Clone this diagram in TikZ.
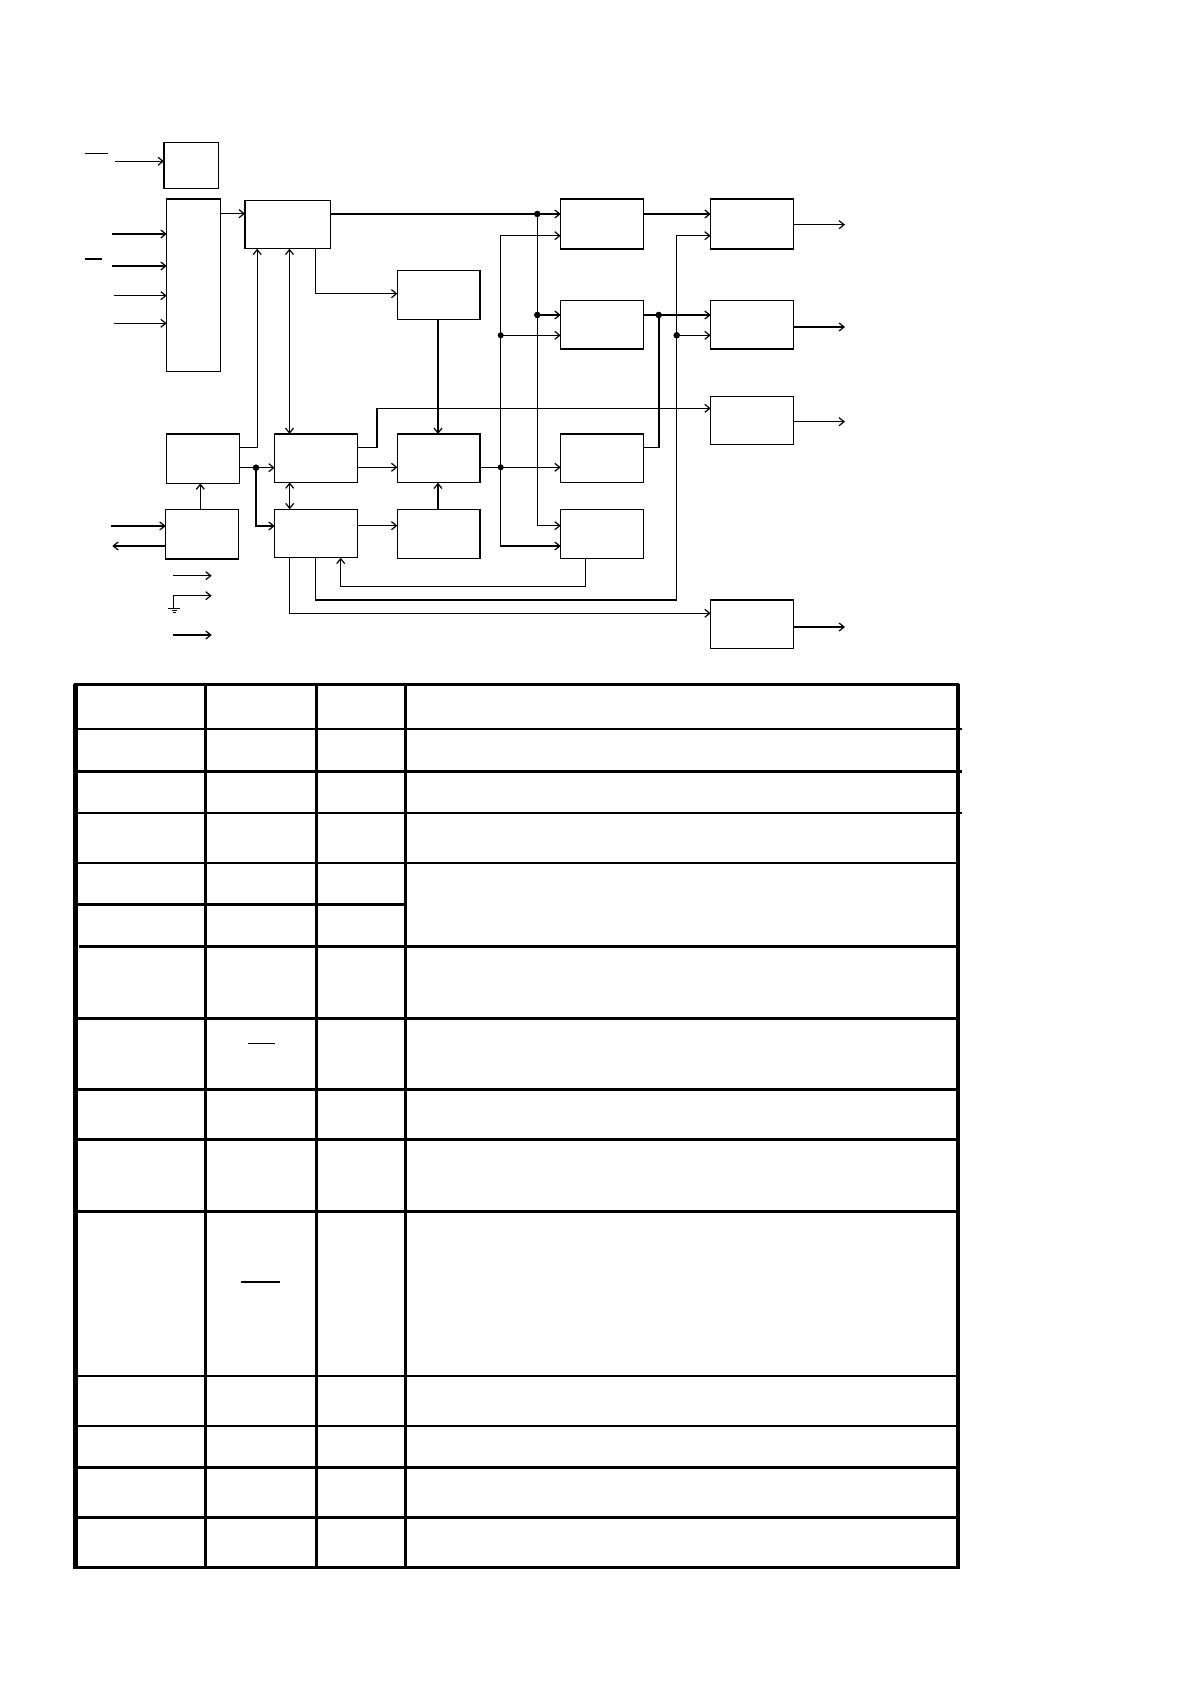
\documentclass[tikz,border=0pt]{standalone}
\usetikzlibrary{arrows.meta,calc}
\begin{document}
\begin{tikzpicture}[x=0.5pt,y=-0.5pt,
  box/.style={draw,line width=0.6pt,inner sep=0pt,outer sep=0pt},
  wire/.style={line width=0.6pt},
  arr/.style={wire,-{Straight Barb[length=2.5pt,width=4pt]}},
  dbl/.style={wire,{Straight Barb[length=2.5pt,width=4pt]}-{Straight Barb[length=2.5pt,width=4pt]}},
  dot/.style={circle,fill,inner sep=0pt,minimum size=3.3pt},
  bar/.style={line width=0.6pt},
  tthick/.style={line width=1.4pt,line cap=rect},
  tthin/.style={line width=1pt,line cap=rect}]
\useasboundingbox (0,0) rectangle (1190,1684);
% ---------- blocks ----------
\node[box,minimum width=27.2pt,minimum height=23pt]  (S) at (191.2,165.3) {};
\node[box,minimum width=27pt,minimum height=86.3pt]  (T) at (193.7,285.3) {};
\node[box,minimum width=42.7pt,minimum height=24.2pt] (A) at (287.7,224.5) {};
\node[box,minimum width=41.3pt,minimum height=24.5pt] (B) at (438.7,294.8) {};
\node[box,minimum width=36.3pt,minimum height=24.7pt] (C) at (203,458.7) {};
\node[box,minimum width=36.3pt,minimum height=24.8pt] (D) at (202,534.2) {};
\node[box,minimum width=41.3pt,minimum height=24.2pt] (E) at (316,458.2) {};
\node[box,minimum width=41.3pt,minimum height=24.2pt] (F) at (316,533.5) {};
\node[box,minimum width=41.3pt,minimum height=24.3pt] (G) at (438.7,458.3) {};
\node[box,minimum width=41.3pt,minimum height=24.3pt] (H) at (438.7,534) {};
\node[box,minimum width=41.3pt,minimum height=25pt]   (I1) at (602,224) {};
\node[box,minimum width=41.3pt,minimum height=24.3pt] (I2) at (602,324.7) {};
\node[box,minimum width=41.3pt,minimum height=24.3pt] (I3) at (602,458.3) {};
\node[box,minimum width=41.3pt,minimum height=24.3pt] (I4) at (602,534) {};
\node[box,minimum width=41.3pt,minimum height=25pt]   (J1) at (752,224) {};
\node[box,minimum width=41.3pt,minimum height=24.3pt] (J2) at (752,324.7) {};
\node[box,minimum width=41.3pt,minimum height=24.2pt] (J3) at (752,420.5) {};
\node[box,minimum width=41.3pt,minimum height=24.2pt] (J4) at (752,624.2) {};
% ---------- free ends ----------
\coordinate (inS) at (115,161.3);
\coordinate (inT1) at (112.3,234);
\coordinate (inT2) at (112.3,266);
\coordinate (inT3) at (113.7,295.7);
\coordinate (inT4) at (113.7,323.3);
\coordinate (inD) at (111,526);
\coordinate (outD) at (112.3,546);
\coordinate (o1) at (845,224.7);
\coordinate (o2) at (845,327);
\coordinate (o3) at (845,421.7);
\coordinate (o4) at (845,627);
\coordinate (L1a) at (173.3,575.7);
\coordinate (L1b) at (211.7,575.7);
\coordinate (L2g) at (173.3,608.3);
\coordinate (L2a) at (173.3,595.7);
\coordinate (L2b) at (211.7,595.7);
\coordinate (L3a) at (173.3,635);
\coordinate (L3b) at (211.7,635);
% ---------- inputs ----------
\draw[bar] (85,153.3) -- (108.3,153.3);
\draw[bar] (85,259) -- (102,259);
\draw[arr] (inS) -- (inS -| S.west);
\foreach \c in {inT1,inT2,inT3,inT4} \draw[arr] (\c) -- (\c -| T.west);
\draw[arr] (inD) -- (inD -| D.west);
\draw[arr] (outD -| D.west) -- (outD);
% ---------- connectors ----------
\draw[arr] (T.east |- 0,213.7) -- (A.west |- 0,213.7);
\draw[arr] (A.east |- 0,214) -- (I1.west |- 0,214);
\draw[arr] (537.3,214) |- (I4.west |- 0,525.7);
\draw[arr] (537.3,315) -- (I2.west |- 0,315);
\draw[dbl] (I1.west |- 0,235.7) -| (500.7,546) -- (I4.west |- 0,546);
\draw[arr] (500.7,335.3) -- (I2.west |- 0,335.3);
\draw[arr] (A.south -| 315.3,0) |- (B.west |- 0,293.7);
\draw[arr] (C.east |- 0,447.3) -| (A.south -| 257.2,0);
\draw[dbl] (A.south -| 289.5,0) -- (E.north -| 289.5,0);
\draw[arr] (B.south -| 438,0) -- (G.north -| 438,0);
\draw[arr] (C.east |- 0,467.7) -- (E.west |- 0,467.7);
\draw[arr] (256,467.7) |- (F.west |- 0,526);
\draw[arr] (D.north -| 200.3,0) -- (C.south -| 200.3,0);
\draw[dbl] (E.south -| 289.7,0) -- (F.north -| 289.7,0);
\draw[arr] (E.east |- 0,467.3) -- (G.west |- 0,467.3);
\draw[arr] (F.east |- 0,525.7) -- (H.west |- 0,525.7);
\draw[arr] (H.north -| 438,0) -- (G.south -| 438,0);
\draw[arr] (E.east |- 0,447.3) -| (377,408.3) -- (J3.west |- 0,408.3);
\draw[arr] (G.east |- 0,467.3) -- (I3.west |- 0,467.3);
\draw[arr] (I1.east |- 0,214) -- (J1.west |- 0,214);
\draw[arr] (I2.east |- 0,315) -- (J2.west |- 0,315);
\draw[wire] (659,315) |- (I3.east |- 0,447.3);
\draw[arr] (F.south -| 315.3,0) |- (676.7,600) |- (J1.west |- 0,235.7);
\draw[arr] (676.7,335.3) -- (J2.west |- 0,335.3);
\draw[arr] (I4.south -| 585.3,0) |- (340.7,586.3) -- (F.south -| 340.7,0);
\draw[arr] (F.south -| 289.7,0) |- (J4.west |- 0,613.3);
\draw[arr] (J1.east |- o1) -- (o1);
\draw[arr] (J2.east |- o2) -- (o2);
\draw[arr] (J3.east |- o3) -- (o3);
\draw[arr] (J4.east |- o4) -- (o4);
% ---------- junction dots ----------
\node[dot] (d1) at (537.3,214) {};
\node[dot] (d2) at (537.3,315) {};
\node[dot,minimum size=3pt] (d3) at (500.7,335.3) {};
\node[dot,minimum size=3pt] (d4) at (500.7,467.3) {};
\node[dot] (d5) at (658.7,315) {};
\node[dot] (d6) at (676.7,335.3) {};
\node[dot] (d7) at (256,467.7) {};
% ---------- legend ----------
\draw[arr] (L1a) -- (L1b);
\draw[arr] (L2g) -- (L2a) -- (L2b);
\draw[wire] (168.3,608.3) -- (180,608.3);
\draw[line width=0.4pt] (171.5,610.7) -- (176.5,610.7);
\draw[line width=0.4pt] (172.8,612.7) -- (175.8,612.7);
\draw[arr] (L3a) -- (L3b);
% ---------- table ----------
\draw[line width=2.25pt] (75.7,683.5) -- (75.7,1568.5);
\draw[line width=2pt] (957.5,683.5) -- (957.5,1568.5);
\draw[tthick] (75.7,684.7) -- (957.5,684.7);
\foreach \x in {205.7,316.3,405.3} \draw[line width=1.5pt] (\x,684.7) -- (\x,1567.7);
\draw[tthick] (75.7,729) -- (961,729);
\draw[tthick] (75.7,771.3) -- (961,771.3);
\draw[tthin] (75.7,813) -- (961,813);
\draw[tthin] (75.7,862.7) -- (957.5,862.7);
\draw[tthick] (75.7,904.3) -- (405.3,904.3);
\draw[tthick] (80.7,946.3) -- (957.5,946.3);
\foreach \y in {1018.7,1089.7,1139.3,1211.3} \draw[tthick] (75.7,\y) -- (957.5,\y);
\draw[tthin] (75.7,1375.7) -- (957.5,1375.7);
\draw[tthin] (75.7,1426) -- (957.5,1426);
\foreach \y in {1467.3,1517.3,1567.7} \draw[tthick] (75.7,\y) -- (957.5,\y);
\draw[bar] (248.3,1043.7) -- (275,1043.7);
\draw[bar] (241,1282) -- (280,1282);
\end{tikzpicture}
\end{document}
